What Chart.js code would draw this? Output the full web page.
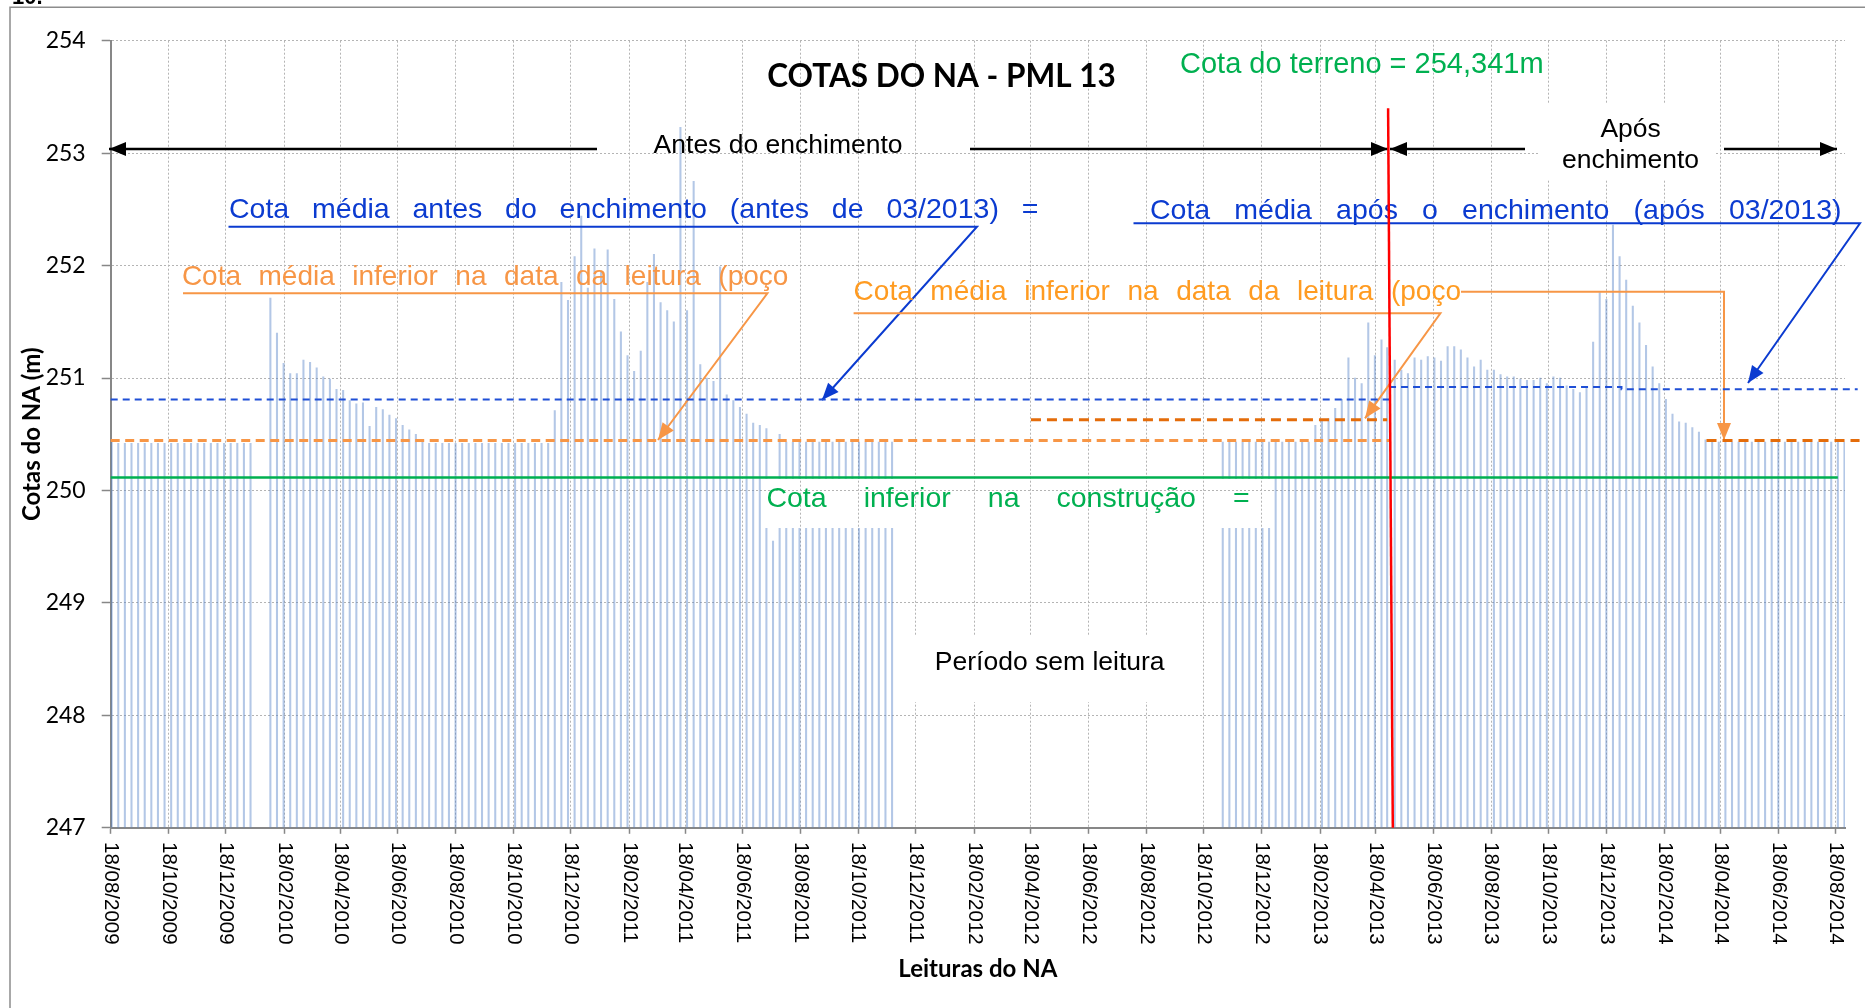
<!DOCTYPE html>
<html>
<head>
<meta charset="utf-8">
<script src="https://cdn.jsdelivr.net/npm/chart.js@4.4.1/dist/chart.umd.min.js"></script>
<style>
  html, body { margin: 0; padding: 0; background: #fff; }
  #wrap { width: 1865px; height: 1008px; }
</style>
</head>
<body>
<div id="wrap"><canvas id="cotasChart" width="1865" height="1008"></canvas></div>
<script>
// leituras do NA - PML 13 (dd/mm/aaaa) e cotas lidas (m)
const datasLeitura = [
  '19/08/2009','26/08/2009','02/09/2009','09/09/2009','16/09/2009','23/09/2009','30/09/2009','07/10/2009',
  '14/10/2009','21/10/2009','28/10/2009','04/11/2009','11/11/2009','18/11/2009','25/11/2009','02/12/2009',
  '09/12/2009','16/12/2009','23/12/2009','30/12/2009','06/01/2010','13/01/2010',
  '03/02/2010','10/02/2010','17/02/2010','24/02/2010','03/03/2010','10/03/2010','17/03/2010','24/03/2010',
  '31/03/2010','07/04/2010','14/04/2010','21/04/2010','28/04/2010','05/05/2010','12/05/2010','19/05/2010',
  '26/05/2010','02/06/2010','09/06/2010','16/06/2010','23/06/2010','30/06/2010','07/07/2010','14/07/2010',
  '21/07/2010','28/07/2010','04/08/2010','11/08/2010','18/08/2010','25/08/2010','01/09/2010','08/09/2010',
  '15/09/2010','22/09/2010','29/09/2010','06/10/2010','13/10/2010','20/10/2010','27/10/2010','03/11/2010',
  '10/11/2010','17/11/2010','24/11/2010',
  '01/12/2010','08/12/2010','15/12/2010','22/12/2010','29/12/2010','05/01/2011','12/01/2011','19/01/2011',
  '26/01/2011','02/02/2011','09/02/2011','16/02/2011','23/02/2011','02/03/2011','09/03/2011','16/03/2011',
  '23/03/2011','30/03/2011','06/04/2011','13/04/2011','20/04/2011','27/04/2011','04/05/2011','11/05/2011',
  '18/05/2011','25/05/2011','01/06/2011','08/06/2011','15/06/2011','22/06/2011','29/06/2011','06/07/2011',
  '13/07/2011','20/07/2011','27/07/2011',
  '03/08/2011','10/08/2011','17/08/2011','24/08/2011','31/08/2011','07/09/2011','14/09/2011','21/09/2011',
  '28/09/2011','05/10/2011','12/10/2011','19/10/2011','26/10/2011','02/11/2011','09/11/2011','16/11/2011',
  '23/11/2011',
  '07/11/2012','14/11/2012','21/11/2012','28/11/2012','05/12/2012','12/12/2012','19/12/2012','26/12/2012',
  '02/01/2013','09/01/2013','16/01/2013','23/01/2013','30/01/2013','06/02/2013','13/02/2013','20/02/2013',
  '27/02/2013','06/03/2013','13/03/2013','20/03/2013','27/03/2013','03/04/2013','10/04/2013','17/04/2013',
  '24/04/2013','30/04/2013',
  '08/05/2013','15/05/2013','22/05/2013','29/05/2013','05/06/2013','12/06/2013','19/06/2013','26/06/2013',
  '03/07/2013','10/07/2013','17/07/2013','24/07/2013','31/07/2013','07/08/2013','14/08/2013','21/08/2013',
  '28/08/2013','04/09/2013','11/09/2013','18/09/2013','25/09/2013',
  '02/10/2013','09/10/2013','16/10/2013','23/10/2013','30/10/2013','06/11/2013','13/11/2013','20/11/2013',
  '27/11/2013','04/12/2013','11/12/2013','18/12/2013','25/12/2013','01/01/2014','08/01/2014','15/01/2014',
  '22/01/2014','29/01/2014','05/02/2014','12/02/2014','19/02/2014','26/02/2014','05/03/2014','12/03/2014',
  '19/03/2014','26/03/2014','02/04/2014',
  '09/04/2014','16/04/2014','23/04/2014','30/04/2014','07/05/2014','14/05/2014','21/05/2014','28/05/2014',
  '04/06/2014','11/06/2014','18/06/2014','25/06/2014','02/07/2014','09/07/2014','16/07/2014','23/07/2014',
  '30/07/2014','06/08/2014','13/08/2014','20/08/2014','27/08/2014'
];
const cotasNA = [
  250.43, 250.42, 250.42, 250.42, 250.42, 250.42, 250.42, 250.42,
  250.42, 250.42, 250.42, 250.42, 250.42, 250.42, 250.42, 250.42,
  250.42, 250.42, 250.42, 250.42, 250.42, 250.42,
  251.71, 251.40, 251.13, 251.04, 251.04, 251.16, 251.14, 251.09,
  251.01, 250.99, 250.90, 250.89, 250.80, 250.77, 250.78, 250.57,
  250.74, 250.72, 250.67, 250.64, 250.58, 250.54, 250.50, 250.45,
  250.42, 250.42, 250.42, 250.42, 250.42, 250.42, 250.42, 250.42,
  250.42, 250.42, 250.42, 250.42, 250.42, 250.42, 250.42, 250.42,
  250.42, 250.42, 250.42,
  250.71, 251.85, 251.69, 252.08, 252.44, 251.80, 252.15, 251.95,
  252.14, 251.70, 251.41, 251.20, 251.06, 251.24, 251.85, 252.10,
  251.67, 251.60, 251.50, 253.23, 251.60, 252.75, 251.12, 251.00,
  250.97, 251.99, 250.85, 250.80, 250.74, 250.68, 250.60, 250.58,
  250.55, 249.55, 250.50,
  250.43, 250.43, 250.43, 250.43, 250.43, 250.43, 250.43, 250.43,
  250.43, 250.43, 250.43, 250.43, 250.43, 250.43, 250.43, 250.43,
  250.43,
  250.43, 250.43, 250.43, 250.43, 250.43, 250.43, 250.43, 250.43,
  250.43, 250.43, 250.43, 250.43, 250.43, 250.43, 250.58, 250.63,
  250.64, 250.73, 250.81, 251.18, 251.00, 250.95, 251.49, 251.20,
  251.34, 251.27,
  251.16, 251.07, 251.04, 251.18, 251.16, 251.19, 251.18, 251.15,
  251.28, 251.28, 251.25, 251.18, 251.10, 251.16, 251.07, 251.07,
  251.03, 251.01, 251.01, 250.99, 250.98,
  250.98, 251.00, 250.95, 251.01, 251.00, 250.93, 250.90, 250.87,
  250.92, 251.32, 251.76, 251.70, 252.36, 252.08, 251.87, 251.64,
  251.49, 251.29, 251.10, 250.95, 250.81, 250.68, 250.61, 250.60,
  250.56, 250.52, 250.45,
  250.43, 250.43, 250.43, 250.43, 250.43, 250.43, 250.43, 250.43,
  250.43, 250.43, 250.43, 250.43, 250.43, 250.43, 250.43, 250.43,
  250.43, 250.43, 250.43, 250.43, 250.43
];

const ticksDatas = [
  '18/08/2009','18/10/2009','18/12/2009','18/02/2010','18/04/2010','18/06/2010','18/08/2010','18/10/2010',
  '18/12/2010','18/02/2011','18/04/2011','18/06/2011','18/08/2011','18/10/2011','18/12/2011','18/02/2012',
  '18/04/2012','18/06/2012','18/08/2012','18/10/2012','18/12/2012','18/02/2013','18/04/2013','18/06/2013',
  '18/08/2013','18/10/2013','18/12/2013','18/02/2014','18/04/2014','18/06/2014','18/08/2014'
];

// linhas de referência
const mediaAntesDatas = ['18/08/2009', '02/05/2013'];
const mediaAntesCotas = [250.81, 250.81];
const mediaAposDatas = ['02/05/2013', '03/01/2014', '03/01/2014', '10/09/2014'];
const mediaAposCotas = [250.92, 250.92, 250.90, 250.90];
const inferiorAntesDatas = ['18/08/2009', '02/05/2013'];
const inferiorAntesCotas = [250.445, 250.445];
const inferiorLeituraDatas = ['18/04/2012', '30/04/2013'];
const inferiorLeituraCotas = [250.63, 250.63];
const inferiorAposDatas = ['03/04/2014', '12/09/2014'];
const inferiorAposCotas = [250.445, 250.445];
const construcaoDatas = ['18/08/2009', '20/08/2014'];
const construcaoCotas = [250.115, 250.115];
const enchimentoDatas = ['01/05/2013', '06/05/2013'];
const enchimentoCotas = [253.40, 247];

const toMs = s => {
  const [d, m, a] = s.split('/').map(Number);
  return Date.UTC(a, m - 1, d);
};
const pontos = (datas, cotas) => datas.map((d, i) => ({ x: toMs(d), y: cotas[i] }));
const linha = (datas, cotas, cor, largura, dash, ordem) => ({
  type: 'line',
  data: pontos(datas, cotas),
  borderColor: cor,
  borderWidth: largura,
  borderDash: dash,
  pointRadius: 0,
  fill: false,
  tension: 0,
  clip: false,
  order: ordem,
});

const FONTE = '"Liberation Sans", Arial, sans-serif';

function texto(ctx, s, x, y, tam, cor, alinh) {
  ctx.font = tam + 'px ' + FONTE;
  ctx.fillStyle = cor;
  ctx.textAlign = alinh || 'left';
  ctx.textBaseline = 'alphabetic';
  ctx.fillText(s, x, y);
}

function justificado(ctx, s, x0, x1, y, tam, cor) {
  ctx.font = tam + 'px ' + FONTE;
  ctx.fillStyle = cor;
  ctx.textAlign = 'left';
  ctx.textBaseline = 'alphabetic';
  const palavras = s.split(' ');
  const larg = palavras.map(p => ctx.measureText(p).width);
  const soma = larg.reduce((a, b) => a + b, 0);
  const vao = (x1 - x0 - soma) / (palavras.length - 1);
  let x = x0;
  palavras.forEach((p, i) => {
    ctx.fillText(p, x, y);
    x += larg[i] + vao;
  });
}

function seta(ctx, pts, cor, larg, ponta) {
  ctx.strokeStyle = cor;
  ctx.lineWidth = larg;
  ctx.setLineDash([]);
  ctx.beginPath();
  ctx.moveTo(pts[0][0], pts[0][1]);
  for (let i = 1; i < pts.length; i++) ctx.lineTo(pts[i][0], pts[i][1]);
  ctx.stroke();
  if (!ponta) return;
  const [xa, ya] = pts[pts.length - 2];
  const [xb, yb] = pts[pts.length - 1];
  const ang = Math.atan2(yb - ya, xb - xa);
  const L = 17, W = 7;
  const c = Math.cos(ang), s = Math.sin(ang);
  ctx.fillStyle = cor;
  ctx.beginPath();
  ctx.moveTo(xb, yb);
  ctx.lineTo(xb - L * c + W * s, yb - L * s - W * c);
  ctx.lineTo(xb - L * c - W * s, yb - L * s + W * c);
  ctx.closePath();
  ctx.fill();
}

const anotacoes = {
  id: 'anotacoes',
  beforeDraw(chart) {
    const ctx = chart.ctx;
    ctx.save();
    ctx.fillStyle = '#fff';
    ctx.fillRect(0, 0, chart.width, chart.height);
    ctx.strokeStyle = '#8c8c8c';
    ctx.lineWidth = 1.5;
    ctx.beginPath();
    ctx.moveTo(10, chart.height);
    ctx.lineTo(10, 7.3);
    ctx.lineTo(chart.width, 7.3);
    ctx.stroke();
    ctx.fillStyle = '#000';
    ctx.font = 'bold 22px ' + FONTE;
    ctx.fillText('10.', 12, 4);
    ctx.restore();
  },
  afterDatasetDraw(chart, args) {
    if (args.meta.type !== 'bar') return;
    const ctx = chart.ctx;
    ctx.save();

    // caixas de texto com fundo branco
    ctx.save();
    ctx.beginPath();
    ctx.rect(762, 479, 510, 49);
    ctx.clip();
    ctx.fillStyle = '#fff';
    ctx.fillRect(762, 479, 510, 49);
    chart.scales.x.drawGrid(chart.chartArea);
    chart.scales.y.drawGrid(chart.chartArea);
    ctx.restore();
    ctx.fillStyle = '#fff';
    ctx.fillRect(905, 635, 270, 67);
    ctx.fillRect(1540, 104, 175, 76);

    // título
    ctx.font = 'bold 31.5px Lato';
    ctx.fillStyle = '#000';
    ctx.textAlign = 'center';
    ctx.fillText('COTAS DO NA - PML 13', 941.5, 87);

    texto(ctx, 'Cota do terreno = 254,341m', 1180, 72.7, 29, '#00B050');

    // períodos antes / após
    seta(ctx, [[597, 149], [109, 149]], '#000', 2.5, true);
    seta(ctx, [[970, 149], [1388, 149]], '#000', 2.5, true);
    seta(ctx, [[1525, 149], [1390, 149]], '#000', 2.5, true);
    seta(ctx, [[1724, 149], [1837, 149]], '#000', 2.5, true);
    texto(ctx, 'Antes do enchimento', 653.6, 153, 26.5, '#000');
    texto(ctx, 'Após', 1630.6, 137, 26.5, '#000', 'center');
    texto(ctx, 'enchimento', 1630.6, 168, 26.5, '#000', 'center');
    texto(ctx, 'Período sem leitura', 1049.7, 670, 26.5, '#000', 'center');

    // cotas médias
    const azul = '#0B3BD0';
    justificado(ctx, 'Cota média antes do enchimento (antes de 03/2013) =', 229, 1038.4, 218, 28.5, azul);
    seta(ctx, [[228.5, 226.7], [977, 226.7], [822, 400]], azul, 2, true);
    justificado(ctx, 'Cota média após o enchimento (após 03/2013)', 1150, 1841.5, 219, 28.5, azul);
    seta(ctx, [[1133.5, 223.3], [1860, 223.3], [1748, 383]], azul, 2, true);

    const laranja = '#F79646';
    justificado(ctx, 'Cota média inferior na data da leitura (poço', 181.9, 788.4, 285, 28, laranja);
    seta(ctx, [[183, 293.3], [767.4, 293.3], [658, 440]], laranja, 2, true);
    justificado(ctx, 'Cota média inferior na data da leitura (poço', 853.6, 1461, 299.5, 28, '#FF9B21');
    seta(ctx, [[853.6, 313.3], [1440.4, 313.3], [1365, 418.3]], laranja, 2, true);
    seta(ctx, [[1461, 291.7], [1724, 291.7], [1724, 440]], laranja, 2, true);

    justificado(ctx, 'Cota inferior na construção =', 766.4, 1249.6, 506.7, 28.5, '#00B050');
    ctx.restore();
  },
  afterDraw(chart) {
    const ctx = chart.ctx;
    const x = chart.scales.x;
    ctx.save();
    ctx.font = '20.5px ' + FONTE;
    ctx.fillStyle = '#000';
    ctx.textAlign = 'left';
    ctx.textBaseline = 'middle';
    x.ticks.forEach((t, i) => {
      ctx.save();
      ctx.translate(x.getPixelForValue(t.value), 842);
      ctx.rotate(Math.PI / 2);
      ctx.fillText(ticksDatas[i], 0, 0);
      ctx.restore();
    });
    ctx.restore();
  },
};

Chart.defaults.font.family = 'Lato';

new Chart(document.getElementById('cotasChart'), {
  type: 'bar',
  data: {
    datasets: [
      {
        type: 'bar',
        data: pontos(datasLeitura, cotasNA),
        backgroundColor: 'rgba(86,130,200,0.45)',
        barThickness: 1.4,
        base: 247,
        grouped: false,
        order: 10,
      },
      linha(construcaoDatas, construcaoCotas, '#00B050', 2.5, [], 6),
      linha(inferiorAntesDatas, inferiorAntesCotas, '#F79646', 3, [9, 5.5], 5),
      linha(inferiorLeituraDatas, inferiorLeituraCotas, '#E46C0A', 3, [10, 6], 4),
      linha(inferiorAposDatas, inferiorAposCotas, '#E46C0A', 3, [10, 6], 4),
      linha(mediaAntesDatas, mediaAntesCotas, '#1F4FD6', 2, [7, 5], 3),
      linha(mediaAposDatas, mediaAposCotas, '#1F4FD6', 2, [7, 5], 3),
      linha(enchimentoDatas, enchimentoCotas, '#FF0000', 2.5, [], 0),
    ],
  },
  options: {
    responsive: false,
    animation: false,
    devicePixelRatio: 1,
    layout: { padding: { left: 10, top: 40.7, right: 20, bottom: 0 } },
    plugins: {
      legend: { display: false },
      tooltip: { enabled: false },
    },
    scales: {
      x: {
        type: 'linear',
        offset: false,
        min: toMs('18/08/2009'),
        max: Date.UTC(2014, 7, 27, 14),
        afterBuildTicks: scale => {
          scale.ticks = ticksDatas.map(d => ({ value: toMs(d) }));
        },
        afterFit: scale => { scale.height = 180.2; },
        ticks: { display: false, autoSkip: false },
        grid: {
          offset: false,
          color: '#b4b4b4',
          lineWidth: 1,
          tickLength: 6,
          tickColor: '#878787',
          tickWidth: 1.5,
        },
        border: { color: '#878787', width: 2, dash: [2, 2] },
        title: {
          display: true,
          text: 'Leituras do NA',
          color: '#000',
          font: { family: 'Lato', size: 24, weight: 'bold' },
          padding: { top: 0, bottom: 24 },
        },
      },
      y: {
        min: 247,
        max: 254,
        afterFit: scale => { scale.width = 100.7; },
        ticks: {
          stepSize: 1,
          color: '#000',
          padding: 16,
          font: { family: 'Lato', size: 23 },
        },
        grid: {
          color: '#b4b4b4',
          lineWidth: 1,
          tickLength: 9,
          tickColor: '#878787',
          tickWidth: 1.5,
        },
        border: { color: '#878787', width: 2, dash: [2, 2] },
        title: {
          display: true,
          text: 'Cotas do NA (m)',
          color: '#000',
          font: { family: 'Lato', size: 24, weight: 'bold' },
          padding: { top: 8 },
        },
      },
    },
  },
  plugins: [anotacoes],
});
</script>
</body>
</html>
